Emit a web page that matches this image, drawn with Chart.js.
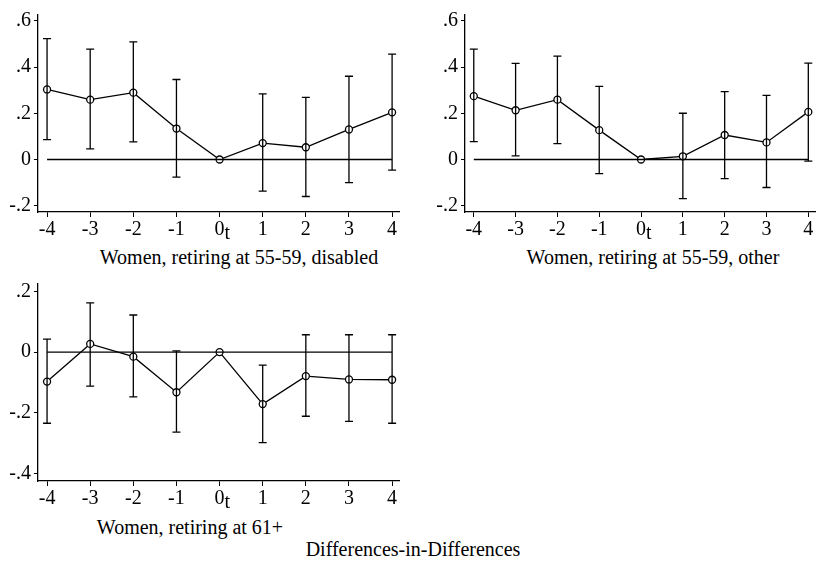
<!DOCTYPE html>
<html>
<head>
<meta charset="utf-8">
<script src="https://cdn.jsdelivr.net/npm/chart.js@4.4.1/dist/chart.umd.min.js"></script>
<style>
  body { margin: 0; background: #fff; width: 826px; height: 563px; position: relative; overflow: hidden; }
  .panel { position: absolute; }
  .cap { position: absolute; font-family: "Liberation Serif", "Times New Roman", serif; font-size: 20px; line-height: 23px; color: #000; white-space: nowrap; transform: translateX(-50%); }
</style>
</head>
<body>
<div class="panel" style="left:0;top:0;width:410px;height:240px"><canvas id="c1"></canvas></div>
<div class="panel" style="left:427px;top:0;width:399px;height:240px"><canvas id="c2"></canvas></div>
<div class="panel" style="left:0;top:269px;width:410px;height:240px"><canvas id="c3"></canvas></div>
<div class="cap" style="left:239px;top:246px">Women, retiring at 55-59, disabled</div>
<div class="cap" style="left:653px;top:246px">Women, retiring at 55-59, other</div>
<div class="cap" style="left:190px;top:516px">Women, retiring at 61+</div>
<div class="cap" style="left:413px;top:538px">Differences-in-Differences</div>
<script>
// Eje x: años relativos a la jubilación
const periods = [-4, -3, -2, -1, 0, 1, 2, 3, 4];
const xTicks = [-4, -3, -2, -1, 0, 1, 2, 3, 4];
const yTicksTop = [-0.2, 0, 0.2, 0.4, 0.6];
const yTicksBottom = [-0.4, -0.2, 0, 0.2];

// Mujeres 55-59, incapacidad
const disabledEst = [0.303, 0.259, 0.289, 0.134, 0, 0.071, 0.053, 0.13, 0.204];
const disabledHi  = [0.523, 0.477, 0.509, 0.346, null, 0.284, 0.269, 0.36, 0.456];
const disabledLo  = [0.086, 0.046, 0.076, -0.076, null, -0.137, -0.16, -0.1, -0.046];

// Mujeres 55-59, otras
const otherEst = [0.274, 0.213, 0.259, 0.127, 0, 0.014, 0.106, 0.074, 0.206];
const otherHi  = [0.477, 0.416, 0.447, 0.316, null, 0.2, 0.294, 0.277, 0.417];
const otherLo  = [0.077, 0.016, 0.069, -0.061, null, -0.169, -0.083, -0.121, -0.007];

// Mujeres 61+
const lateEst = [-0.097, 0.027, -0.015, -0.132, 0, -0.171, -0.079, -0.09, -0.091];
const lateHi  = [0.043, 0.162, 0.122, 0.004, null, -0.043, 0.057, 0.057, 0.057];
const lateLo  = [-0.234, -0.112, -0.147, -0.263, null, -0.298, -0.211, -0.228, -0.234];

const serif = '"Liberation Serif", "Times New Roman", serif';

function fmtY(v) {
    const r = Math.round(v * 10) / 10;
    if (r === 0) return '0';
    return (r < 0 ? '-' : '') + '.' + Math.round(Math.abs(r) * 10);
}

// Barras de error y subíndice "t" dibujados con las escalas del gráfico
const errorBarPlugin = {
    id: 'errorBars',
    afterDatasetsDraw(chart, args, opts) {
        const { ctx, scales: { x, y } } = chart;
        ctx.save();
        ctx.strokeStyle = '#000';
        ctx.lineWidth = 1.3;
        opts.lo.forEach((lo, i) => {
            const hi = opts.hi[i];
            if (lo === null || hi === null) return;
            const px = x.getPixelForValue(periods[i]);
            const pLo = y.getPixelForValue(lo);
            const pHi = y.getPixelForValue(hi);
            ctx.beginPath();
            ctx.moveTo(px, pLo); ctx.lineTo(px, pHi);
            ctx.moveTo(px - 4, pLo); ctx.lineTo(px + 4, pLo);
            ctx.moveTo(px - 4, pHi); ctx.lineTo(px + 4, pHi);
            ctx.stroke();
        });
        ctx.restore();
    },
    afterDraw(chart) {
        const { ctx, scales: { x } } = chart;
        ctx.save();
        ctx.fillStyle = '#000';
        ctx.font = '20px ' + serif;
        ctx.textAlign = 'left';
        ctx.textBaseline = 'alphabetic';
        ctx.fillText('t', x.getPixelForValue(0) + 5, x.bottom - 1);
        ctx.restore();
    }
};

function makeChart(id, est, lo, hi, yMin, yMax, yTicks) {
    const ctx = document.getElementById(id).getContext('2d');
    return new Chart(ctx, {
        type: 'scatter',
        data: {
            datasets: [
                {
                    data: [{ x: -4, y: 0 }, { x: 4, y: 0 }],
                    showLine: true,
                    borderColor: '#000',
                    borderWidth: 1.3,
                    pointRadius: 0
                },
                {
                    data: periods.map((p, i) => ({ x: p, y: est[i] })),
                    showLine: true,
                    borderColor: '#000',
                    borderWidth: 1.3,
                    pointRadius: 3.5,
                    pointBorderWidth: 1.3,
                    pointBorderColor: '#000',
                    pointBackgroundColor: '#fff'
                }
            ]
        },
        options: {
            responsive: true,
            maintainAspectRatio: false,
            animation: false,
            layout: { padding: { left: 0, top: 13, right: 11, bottom: 0 } },
            plugins: {
                legend: { display: false },
                tooltip: { enabled: false },
                errorBars: { lo, hi }
            },
            scales: {
                x: {
                    type: 'linear',
                    min: -4.21,
                    max: 4.16,
                    afterBuildTicks: s => { s.ticks = xTicks.map(v => ({ value: v })); },
                    afterFit: s => { s.height = 28; },
                    grid: { drawOnChartArea: false, drawTicks: true, tickLength: 5, color: '#000' },
                    border: { display: true, color: '#000', width: 1.3 },
                    ticks: {
                        color: '#000',
                        padding: 1,
                        maxRotation: 0,
                        autoSkip: false,
                        font: { family: serif, size: 20 },
                        callback: v => String(v)
                    }
                },
                y: {
                    min: yMin,
                    max: yMax,
                    afterBuildTicks: s => { s.ticks = yTicks.map(v => ({ value: v })); },
                    afterFit: s => { s.width = 38; },
                    grid: { drawOnChartArea: false, drawTicks: true, tickLength: 4, color: '#000' },
                    border: { display: true, color: '#000', width: 1.3 },
                    ticks: {
                        color: '#000',
                        padding: 3,
                        font: { family: serif, size: 20 },
                        callback: v => fmtY(v)
                    }
                }
            }
        },
        plugins: [errorBarPlugin]
    });
}

makeChart('c1', disabledEst, disabledLo, disabledHi, -0.227, 0.625, yTicksTop);
makeChart('c2', otherEst, otherLo, otherHi, -0.227, 0.625, yTicksTop);
makeChart('c3', lateEst, lateLo, lateHi, -0.424, 0.224, yTicksBottom);
</script>
</body>
</html>
